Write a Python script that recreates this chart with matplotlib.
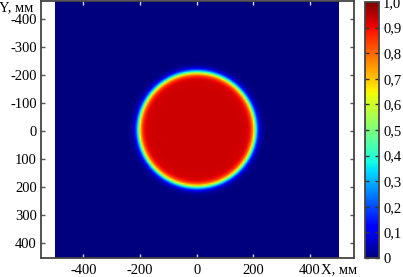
import numpy as np
import matplotlib.pyplot as plt

# disc parameters (mm)
x_range = [-500, 500]
y_range = [-500, 500]
disc_center = [0, -5]
disc_radius = 207
edge_width = 13
peak_level = 0.93
n_grid = 201

x_ticks = [-400, -200, 0, 200, 400]
y_ticks = [-400, -300, -200, -100, 0, 100, 200, 300, 400]
cb_ticks = [0, 0.1, 0.2, 0.3, 0.4, 0.5, 0.6, 0.7, 0.8, 0.9, 1.0]
cb_labels = ["0", "0,1", "0,2", "0,3", "0,4", "0,5", "0,6", "0,7", "0,8", "0,9", "1,0"]

plt.rcParams['font.family'] = ['Liberation Serif', 'DejaVu Serif']
plt.rcParams['axes.unicode_minus'] = False
FS = 10.5

xs = np.linspace(x_range[0], x_range[1], n_grid)
ys = np.linspace(y_range[0], y_range[1], n_grid)
X, Y = np.meshgrid(xs, ys)
r = np.hypot(X - disc_center[0], Y - disc_center[1])
field = peak_level * 0.5 * (1 - np.tanh((r - disc_radius) / edge_width))

W, H = 403, 277
fig = plt.figure(figsize=(W / 100, H / 100), dpi=100)
ax = fig.add_axes([41 / W, 19 / H, 313 / W, 257 / H])
im = ax.imshow(field, cmap='jet', vmin=0, vmax=1, origin='lower',
               extent=[x_range[0], x_range[1], y_range[0], y_range[1]],
               interpolation='bilinear', aspect='auto')
ax.set_xlim(-550, 555)
ax.set_ylim(455, -465)

ax.set_xticks(x_ticks)
ax.set_xticklabels([str(v) for v in x_ticks])
ax.set_yticks(y_ticks)
ax.set_yticklabels([str(v) for v in y_ticks])
ax.tick_params(axis='x', direction='in', top=True, length=3, width=1,
               color='#d8d8ff', labelsize=FS, pad=4)
ax.tick_params(axis='y', direction='in', right=True, length=3, width=1,
               color='#555555', labelsize=FS, pad=3)
for s in ax.spines.values():
    s.set_color('#444444')
    s.set_linewidth(1.3)

fig.text(-1 / W, 1 - 8 / H, "Y, мм", fontsize=FS, ha='left', va='center')
fig.text(321 / W, 1 - 270 / H, "X, мм", fontsize=FS, ha='left', va='center')

cax = fig.add_axes([365 / W, 19 / H, 14 / W, 256 / H])
cb = fig.colorbar(im, cax=cax)
cb.set_ticks(cb_ticks)
cb.set_ticklabels(cb_labels)
cax.tick_params(direction='in', left=True, right=True, length=3, width=1,
                labelsize=FS, pad=3, color='#333333')
for val, t in zip(cb_ticks, cax.yaxis.get_major_ticks()):
    if val in (0.1, 0.2, 0.8, 0.9):
        t.tick1line.set_color('white')
        t.tick2line.set_color('white')
cb.outline.set_edgecolor('#444444')
cb.outline.set_linewidth(1.3)

fig.savefig('out.png', dpi=100)
